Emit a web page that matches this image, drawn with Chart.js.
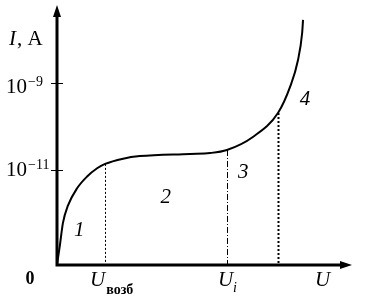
<!DOCTYPE html>
<html>
<head>
<meta charset="utf-8">
<script src="https://cdn.jsdelivr.net/npm/chart.js@4/dist/chart.umd.min.js"></script>
<style>
html,body{margin:0;padding:0;background:#fff;}
#wrap{width:372px;height:306px;}
</style>
</head>
<body>
<div id="wrap"><canvas id="c" width="372" height="306"></canvas></div>
<script>
// Voltage (arbitrary units) and log10 of current (A) along the I–V curve
const voltage = [0, 0.10, 0.20, 0.37, 0.68, 1.02, 1.36, 1.63, 2.24, 2.81, 4.51, 5.19, 5.76, 6.64, 7.49, 7.90, 8.17, 8.31, 8.34];
const logCurrent = [-13.18, -12.72, -12.22, -11.82, -11.42, -11.15, -10.96, -10.86, -10.74, -10.68, -10.63, -10.61, -10.54, -10.24, -9.69, -9.09, -8.47, -7.85, -7.55];

// Y tick values (exponents) and labels
const yTickValues = [-9, -11];
const yTickLabels = ["10", "10"];
const yTickExponents = ["\u22129", "\u221211"];

// Marker voltages (vertical guides) and their heights on the curve
const markerVoltage = [1.63, 5.76, 7.49];
const markerCurrent = [-10.86, -10.54, -9.69];

// Region numbers and anchor points
const regionLabels = ["1", "2", "3", "4"];
const regionVoltage = [0.75, 3.69, 6.31, 8.41];
const regionCurrent = [-12.38, -11.64, -11.05, -9.39];

const SERIF = '"Liberation Serif", "Times New Roman", serif';

const drawer = {
  id: 'drawer',
  beforeDatasetsDraw(chart) {
    const ctx = chart.ctx;
    const xs = chart.scales.x, ys = chart.scales.y;
    const y0 = ys.getPixelForValue(ys.min);
    const styles = [
      {w: 1, dash: [2, 2]},
      {w: 1, dash: [6, 2, 1, 2]},
      {w: 2, dash: [2, 2]}
    ];
    ctx.save();
    ctx.strokeStyle = '#000';
    markerVoltage.forEach((v, i) => {
      const px = Math.round(xs.getPixelForValue(v)) + 0.5;
      const py = ys.getPixelForValue(markerCurrent[i]);
      ctx.lineWidth = styles[i].w;
      ctx.setLineDash(styles[i].dash);
      ctx.beginPath();
      ctx.moveTo(px, py);
      ctx.lineTo(px, y0);
      ctx.stroke();
    });
    ctx.restore();
  },
  afterDraw(chart) {
    const ctx = chart.ctx;
    const xs = chart.scales.x, ys = chart.scales.y;
    const area = chart.chartArea;
    const x0 = xs.getPixelForValue(0);
    const y0 = ys.getPixelForValue(ys.min);
    ctx.save();
    ctx.fillStyle = '#000';
    ctx.strokeStyle = '#000';
    ctx.setLineDash([]);
    // axes
    ctx.lineWidth = 3;
    ctx.beginPath();
    ctx.moveTo(x0, y0 + 1.5);
    ctx.lineTo(x0, area.top + 8);
    ctx.moveTo(x0 - 1.5, y0);
    ctx.lineTo(area.right - 8, y0);
    ctx.stroke();
    // arrow heads
    ctx.beginPath();
    ctx.moveTo(x0, area.top);
    ctx.lineTo(x0 - 4, area.top + 12);
    ctx.lineTo(x0 + 4, area.top + 12);
    ctx.closePath();
    ctx.fill();
    ctx.beginPath();
    ctx.moveTo(area.right, y0);
    ctx.lineTo(area.right - 12, y0 - 4);
    ctx.lineTo(area.right - 12, y0 + 4);
    ctx.closePath();
    ctx.fill();
    // y ticks
    ctx.lineWidth = 1;
    yTickValues.forEach((v, i) => {
      const py = Math.round(ys.getPixelForValue(v)) + 0.5;
      ctx.beginPath();
      ctx.moveTo(x0 - 6, py);
      ctx.lineTo(x0 + 6, py);
      ctx.stroke();
      ctx.textBaseline = 'alphabetic';
      ctx.textAlign = 'left';
      ctx.font = '21px ' + SERIF;
      const base = py + (i === 0 ? 9 : 5);
      ctx.fillText(yTickLabels[i], 6, base);
      const w = ctx.measureText(yTickLabels[i]).width;
      ctx.font = '14px ' + SERIF;
      ctx.fillText(yTickExponents[i], 6 + w + 1, base - 7);
    });
    // y axis title "I, A"
    ctx.font = 'italic 21px ' + SERIF;
    ctx.textAlign = 'left';
    ctx.fillText('I', 9, 45);
    let wI = ctx.measureText('I').width;
    ctx.font = '21px ' + SERIF;
    ctx.fillText(', A', 9 + wI + 1, 45);
    // origin "0"
    ctx.font = 'bold 18px ' + SERIF;
    ctx.textAlign = 'center';
    ctx.fillText('0', 30, 284);
    // x marker labels
    const m0 = xs.getPixelForValue(markerVoltage[0]);
    ctx.textAlign = 'left';
    ctx.font = 'italic 21px ' + SERIF;
    ctx.fillText('U', m0 - 15, 286);
    let wU = ctx.measureText('U').width;
    ctx.font = 'bold 14px ' + SERIF;
    ctx.fillText('возб', m0 - 15 + wU + 1, 294);
    const m1 = xs.getPixelForValue(markerVoltage[1]);
    ctx.font = 'italic 21px ' + SERIF;
    ctx.fillText('U', m1 - 9, 286);
    ctx.font = 'italic 14px ' + SERIF;
    ctx.fillText('i', m1 - 9 + wU, 292);
    // x axis title
    ctx.font = 'italic 21px ' + SERIF;
    ctx.fillText('U', 315, 286);
    // region labels
    ctx.textAlign = 'center';
    ctx.textBaseline = 'middle';
    ctx.font = 'italic 21px ' + SERIF;
    regionLabels.forEach((t, i) => {
      ctx.fillText(t, xs.getPixelForValue(regionVoltage[i]), ys.getPixelForValue(regionCurrent[i]));
    });
    ctx.restore();
  }
};

new Chart(document.getElementById('c'), {
  type: 'line',
  data: {
    datasets: [{
      data: voltage.map((v, i) => ({x: v, y: logCurrent[i]})),
      borderColor: '#000',
      borderWidth: 2,
      pointRadius: 0,
      tension: 0.4,
      cubicInterpolationMode: 'monotone',
      fill: false
    }]
  },
  options: {
    responsive: false,
    animation: false,
    devicePixelRatio: 1,
    layout: {padding: {left: 57, right: 20, top: 5, bottom: 41}},
    scales: {
      x: {type: 'linear', min: 0, max: 10, display: false},
      y: {type: 'linear', min: -13.184, max: -7.207, display: false}
    },
    plugins: {legend: {display: false}, tooltip: {enabled: false}}
  },
  plugins: [drawer]
});
</script>
</body>
</html>
